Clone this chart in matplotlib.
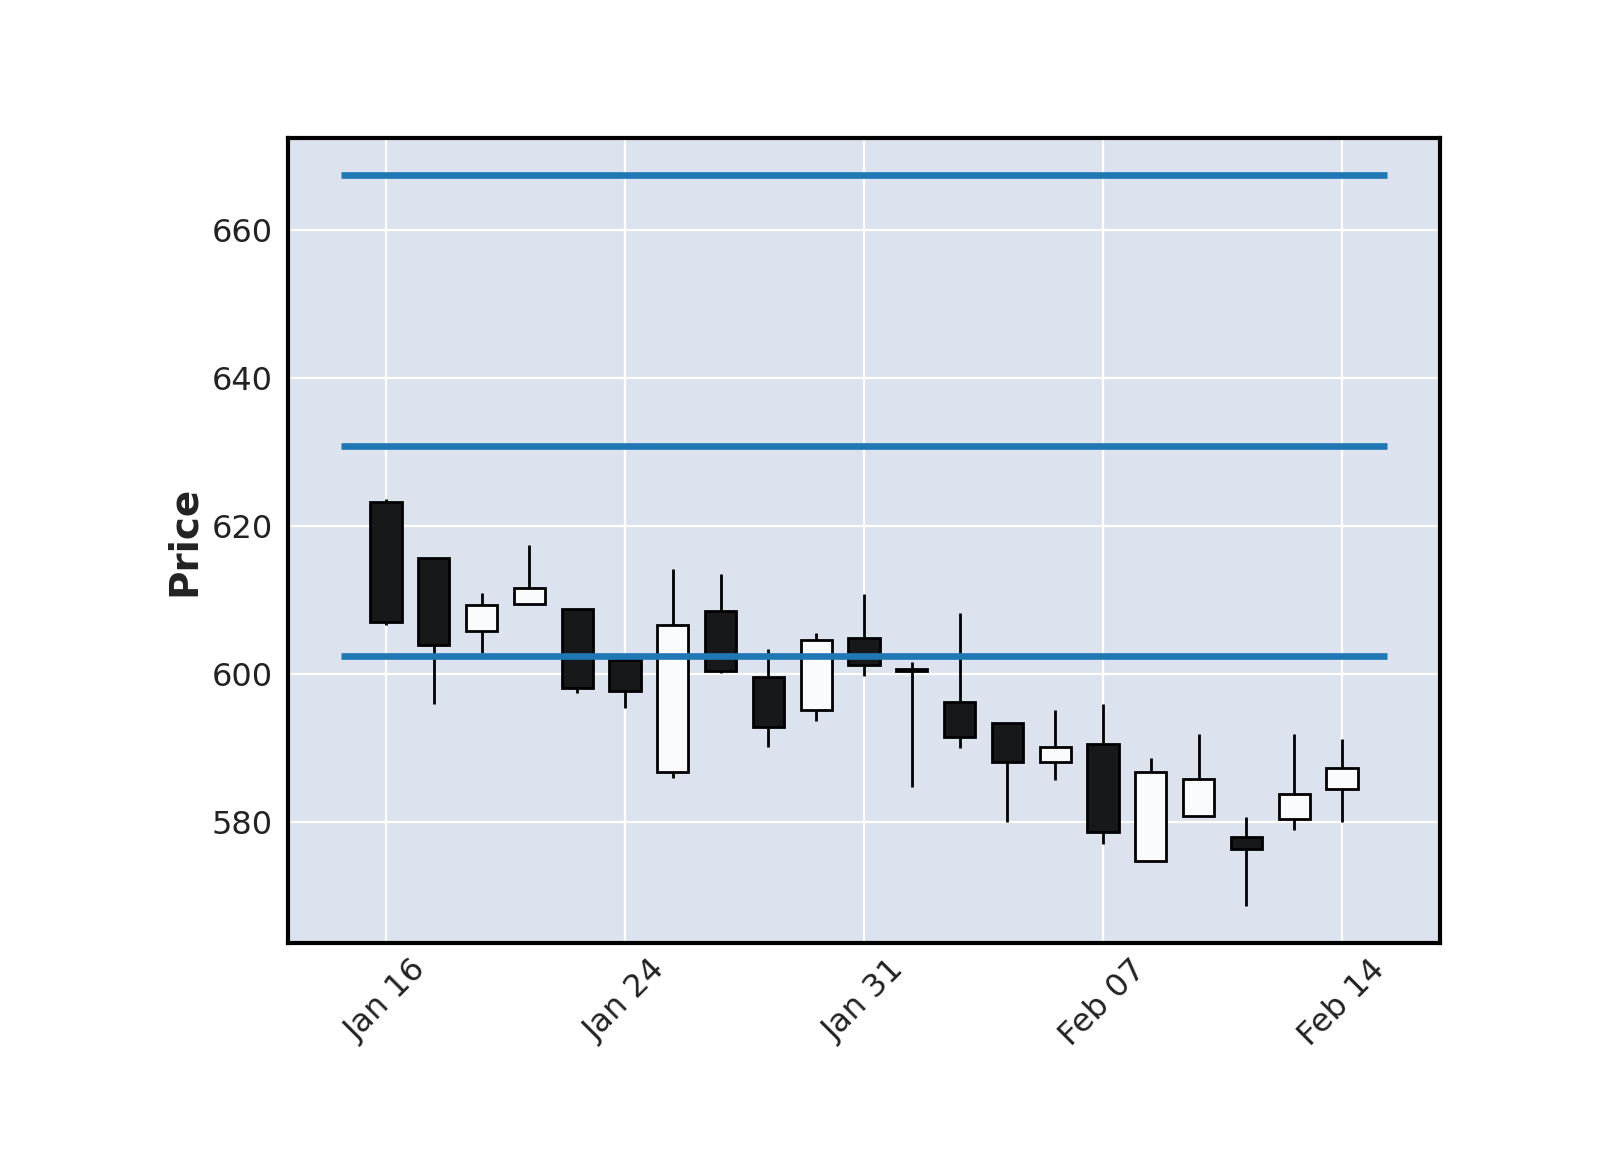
import matplotlib
matplotlib.use("Agg")
import matplotlib.pyplot as plt
from matplotlib.patches import Rectangle

# daily OHLC, one candle per trading day
opens = [623.2, 615.7, 605.8, 609.5, 608.8, 601.9, 586.8, 608.5, 599.6, 595.1,
         604.9, 600.7, 596.2, 593.4, 588.2, 590.6, 574.8, 580.8, 578.0, 580.4, 584.5]
highs = [623.7, 615.7, 611.0, 617.5, 608.8, 601.9, 614.2, 613.5, 603.4, 605.5,
         610.8, 601.7, 608.3, 593.4, 595.1, 596.0, 588.7, 591.9, 580.7, 591.9, 591.3]
lows = [606.7, 596.0, 602.9, 609.5, 597.4, 595.4, 586.0, 600.1, 590.1, 593.7,
        599.7, 584.8, 590.0, 580.0, 585.7, 577.1, 574.8, 580.8, 568.7, 578.9, 580.0]
closes = [607.1, 604.0, 609.3, 611.6, 598.1, 597.7, 606.6, 600.4, 592.9, 604.6,
          601.3, 600.4, 591.5, 588.2, 590.1, 578.7, 586.8, 585.8, 576.4, 583.8, 587.3]

tick_pos = [0, 5, 10, 15, 20]
tick_labels = ["Jan 16", "Jan 24", "Jan 31", "Feb 07", "Feb 14"]

levels = [667.4, 630.8, 602.5]

fig = plt.figure(figsize=(8, 5.75), dpi=200)
ax = fig.add_axes([0.18, 0.18, 0.72, 0.70])
ax.set_facecolor("#DCE3EF")
ax.grid(True, color="white", linewidth=0.8)
ax.set_axisbelow(True)

width = 0.65
for i, (o, h, l, c) in enumerate(zip(opens, highs, lows, closes)):
    up = c >= o
    fc = "#fafbfd" if up else "#17181a"
    ax.vlines(i, l, h, color="black", linewidth=1.0, zorder=2)
    ax.add_patch(Rectangle((i - width / 2, min(o, c)), width, abs(c - o),
                           facecolor=fc, edgecolor="black", linewidth=1.0, zorder=3))

ax.hlines(levels, -0.95, len(opens) - 0.05, color="#1f77b4", linewidth=2.4, zorder=4)

ax.set_xlim(-2.05, 22.05)
ax.set_ylim(563.7, 672.4)
ax.set_yticks([580, 600, 620, 640, 660])
ax.set_xticks(tick_pos)
ax.set_xticklabels(tick_labels, rotation=45, ha="center")
ax.tick_params(length=0, labelsize=11.5, colors="#222222")
ax.tick_params(axis="y", pad=5.5)
ax.tick_params(axis="x", pad=4)
for s in ax.spines.values():
    s.set_linewidth(1.5)
    s.set_color("black")
ax.set_ylabel("Price", fontsize=14, fontweight="bold", color="#222222", labelpad=3)

fig.savefig("out.png", dpi=200)
